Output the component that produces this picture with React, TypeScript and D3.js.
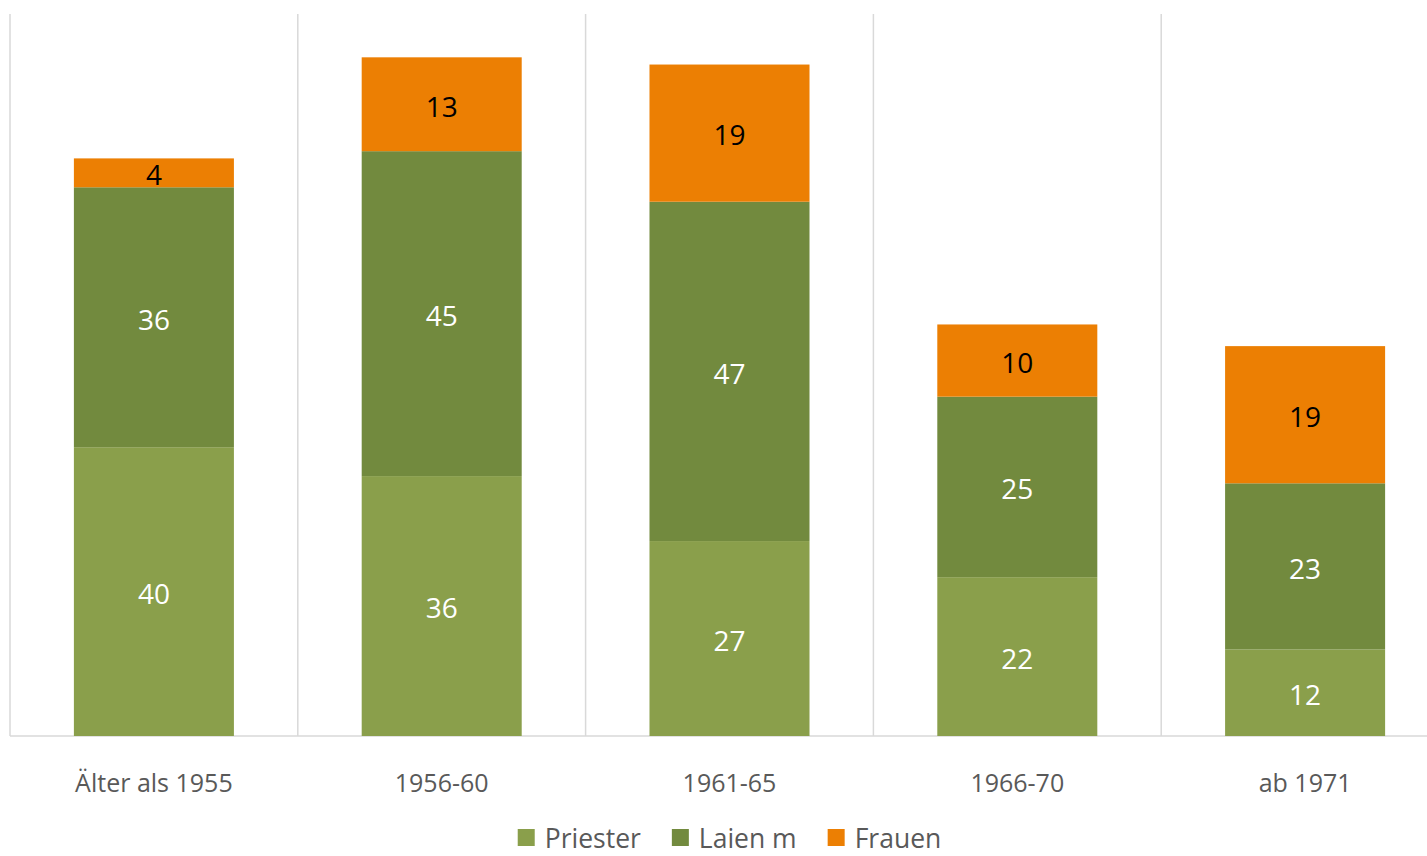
import { useEffect, useRef } from 'react'
import * as d3 from 'd3'

const categories = ['Älter als 1955', '1956-60', '1961-65', '1966-70', 'ab 1971']
const seriesNames = ['Priester', 'Laien m', 'Frauen']
const priester = [40, 36, 27, 22, 12]
const laien = [36, 45, 47, 25, 23]
const frauen = [4, 13, 19, 10, 19]
const colors = ['#8a9f4b', '#728a3e', '#ec7f03']
const labelColors = ['#ffffff', '#ffffff', '#000000']

const W = 1427
const H = 856
const FONT = 'Open Sans, Noto Sans, sans-serif'

export default function App() {
  const svgRef = useRef<SVGSVGElement>(null)

  useEffect(() => {
    if (!svgRef.current) return
    const svg = d3.select(svgRef.current)
    svg.selectAll('*').remove()

    const left = 10
    const right = 1449
    const top = 14
    const bottom = 736

    const x = d3.scaleBand().domain(categories).range([left, right]).padding(0)
    const y = d3.scaleLinear().domain([0, 100]).range([bottom, top])
    const barW = x.bandwidth() * 0.556

    const rows = categories.map((c, i) => ({
      cat: c,
      Priester: priester[i],
      'Laien m': laien[i],
      Frauen: frauen[i],
    }))
    const stacked = d3.stack<any>().keys(seriesNames)(rows)

    // vertical grid lines at category boundaries
    const bounds = categories.map(c => x(c) as number).concat([right])
    svg.append('g')
      .selectAll('line')
      .data(bounds)
      .join('line')
      .attr('x1', d => d)
      .attr('x2', d => d)
      .attr('y1', top)
      .attr('y2', bottom)
      .attr('stroke', '#d9d9d9')
      .attr('stroke-width', 1.5)

    // baseline
    svg.append('line')
      .attr('x1', left)
      .attr('x2', right)
      .attr('y1', bottom)
      .attr('y2', bottom)
      .attr('stroke', '#d9d9d9')
      .attr('stroke-width', 1.5)

    stacked.forEach((layer, si) => {
      const g = svg.append('g')
      g.selectAll('rect')
        .data(layer)
        .join('rect')
        .attr('x', d => (x(d.data.cat) as number) + (x.bandwidth() - barW) / 2)
        .attr('width', barW)
        .attr('y', d => y(d[1]))
        .attr('height', d => y(d[0]) - y(d[1]))
        .attr('fill', colors[si])

      g.selectAll('text')
        .data(layer)
        .join('text')
        .attr('x', d => (x(d.data.cat) as number) + x.bandwidth() / 2)
        .attr('y', d => (y(d[0]) + y(d[1])) / 2)
        .attr('dy', '0.44em')
        .attr('text-anchor', 'middle')
        .attr('font-family', FONT)
        .attr('font-size', 28)
        .attr('fill', labelColors[si])
        .text(d => d[1] - d[0])
    })

    // category labels
    svg.append('g')
      .selectAll('text')
      .data(categories)
      .join('text')
      .attr('x', d => (x(d) as number) + x.bandwidth() / 2)
      .attr('y', 792)
      .attr('text-anchor', 'middle')
      .attr('font-family', FONT)
      .attr('font-size', 25)
      .attr('fill', '#595959')
      .text(d => d)

    // legend, centred under the plot area
    const legend = svg.append('g')
    const items = seriesNames.map((name, i) => {
      const item = legend.append('g')
      item.append('rect')
        .attr('width', 17)
        .attr('height', 17)
        .attr('y', -19)
        .attr('fill', colors[i])
      const t = item.append('text')
        .attr('x', 27)
        .attr('y', 0)
        .attr('font-family', FONT)
        .attr('font-size', 26.5)
        .attr('fill', '#595959')
        .text(name)
      const w = 27 + (t.node() as SVGTextElement).getComputedTextLength()
      return { item, w }
    })
    const gap = 31
    const total = d3.sum(items, d => d.w) + gap * (items.length - 1)
    let cx = (left + right) / 2 - total / 2
    items.forEach(({ item, w }) => {
      item.attr('transform', `translate(${cx},848)`)
      cx += w + gap
    })
  }, [])

  return (
    <svg
      ref={svgRef}
      width={W}
      height={H}
      style={{ position: 'absolute', left: 0, top: 0, background: '#fff' }}
    />
  )
}
